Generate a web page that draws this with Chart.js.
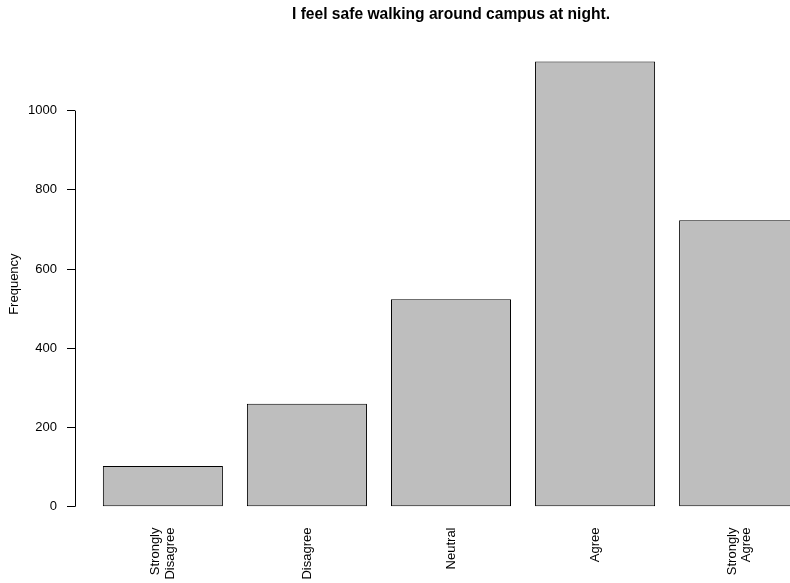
<!DOCTYPE html>
<html>
<head>
<meta charset="utf-8">
<script src="https://cdn.jsdelivr.net/npm/chart.js@4/dist/chart.umd.min.js"></script>
<style>
  html, body { margin: 0; padding: 0; background: #fff; overflow: hidden; }
  #wrap { width: 830px; height: 583px; }
</style>
</head>
<body>
<div id="wrap"><canvas id="chart"></canvas></div>
<script>
const categories = [['Strongly', 'Disagree'], 'Disagree', 'Neutral', 'Agree', ['Strongly', 'Agree']]
const frequencies = [103, 260, 524, 1124, 723]
const yTicks = [0, 200, 400, 600, 800, 1000]
const chartTitle = 'I feel safe walking around campus at night.'

// barplot layout: width 1, space 0.2, axis range padded by 4%
const barCenters = categories.map((c, i) => 0.7 + i * 1.2)
const xMin = 0.2 - 0.04 * 5.8
const xMax = 6.0 + 0.04 * 5.8
const yTop = Math.max(...frequencies)

const fontFamily = '"Liberation Sans", Arial, Helvetica, sans-serif'
const axisFont = { family: fontFamily, size: 13, lineHeight: 1.1 }

// y axis line only spans the ticks, title centred on the plot area,
// two-line x labels centred on their bar
const rStyle = {
  id: 'rStyle',
  afterLayout(chart) {
    const tb = chart.titleBlock
    if (tb) {
      tb.left = chart.chartArea.left
      tb.right = chart.chartArea.right
      tb.width = tb.right - tb.left
    }
  },
  beforeDraw(chart) {
    const x = chart.scales.x
    const items = x.getLabelItems()
    items.forEach(item => {
      if (Array.isArray(item.label) && !item._shifted) {
        const lh = axisFont.size * axisFont.lineHeight
        item.options.translation[0] -= ((item.label.length - 1) * lh) / 2
        item._shifted = true
      }
    })
  },
  afterDraw(chart) {
    const y = chart.scales.y
    const ctx = chart.ctx
    ctx.save()
    ctx.strokeStyle = '#000'
    ctx.lineWidth = 1
    ctx.beginPath()
    ctx.moveTo(chart.chartArea.left + 0.5, y.getPixelForValue(yTicks[0]))
    ctx.lineTo(chart.chartArea.left + 0.5, y.getPixelForValue(yTicks[yTicks.length - 1]))
    ctx.stroke()
    ctx.restore()
  },
}

new Chart(document.getElementById('chart'), {
  type: 'bar',
  data: {
    datasets: [
      {
        data: frequencies.map((v, i) => ({ x: barCenters[i], y: v })),
        backgroundColor: '#bebebe',
        borderColor: '#000',
        borderWidth: 1,
        borderSkipped: false,
        barPercentage: 1,
        categoryPercentage: 1 / 1.2,
      },
    ],
  },
  options: {
    responsive: true,
    maintainAspectRatio: false,
    animation: false,
    layout: { padding: { left: 0, right: 3, top: 0, bottom: 0 } },
    plugins: {
      legend: { display: false },
      tooltip: { enabled: false },
      title: {
        display: true,
        text: chartTitle,
        color: '#000',
        font: { family: fontFamily, size: 15.6, weight: 'bold', lineHeight: 1.2 },
        padding: { top: 5.6, bottom: 19.4 },
      },
    },
    scales: {
      x: {
        type: 'linear',
        offset: false,
        min: xMin,
        max: xMax,
        grid: { display: false, drawTicks: false, offset: false },
        border: { display: false },
        afterBuildTicks: scale => {
          scale.ticks = barCenters.map(v => ({ value: v }))
        },
        afterFit: scale => {
          scale.height = 58.5
        },
        ticks: {
          autoSkip: false,
          minRotation: 90,
          maxRotation: 90,
          padding: 3,
          color: '#000',
          font: axisFont,
          callback: (value, index) => categories[index],
        },
      },
      y: {
        min: -0.04 * yTop,
        max: yTop * 1.04,
        border: { display: false },
        grid: {
          drawOnChartArea: false,
          drawTicks: true,
          tickLength: 8,
          color: '#000',
        },
        afterBuildTicks: scale => {
          scale.ticks = yTicks.map(v => ({ value: v }))
        },
        afterFit: scale => {
          scale.width = 75
        },
        ticks: {
          padding: 10,
          color: '#000',
          font: { family: fontFamily, size: 13 },
          callback: value => String(value),
        },
        title: {
          display: true,
          text: 'Frequency',
          color: '#000',
          font: { family: fontFamily, size: 13, lineHeight: 1.2 },
          padding: { top: 7, bottom: 0 },
        },
      },
    },
  },
  plugins: [rStyle],
})
</script>
</body>
</html>
